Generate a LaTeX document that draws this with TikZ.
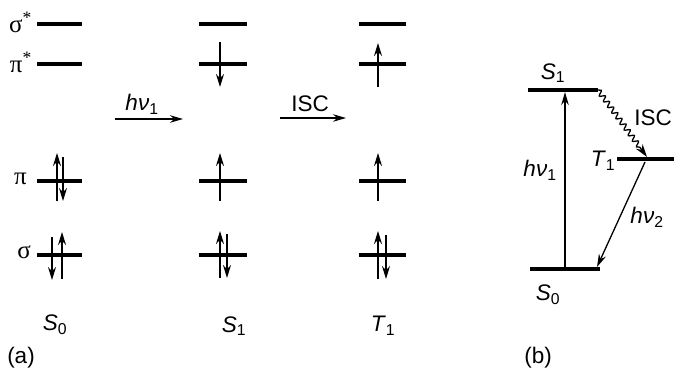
\documentclass[tikz,border=0pt]{standalone}
\usepackage{fontspec}
\setmainfont{Liberation Sans}
\newfontfamily\grk{Liberation Serif}
\usetikzlibrary{arrows.meta,decorations.pathmorphing}
\begin{document}
\begin{tikzpicture}[x=1pt,y=-1pt,
  level/.style={line width=4.2pt},
  el/.style={line width=1.5pt,-{Stealth[length=13pt,width=8pt]}},
  conn/.style={line width=1.3pt,-{Stealth[length=13pt,width=7.5pt]}},
  lbl/.style={font=\fontsize{22.5}{26}\selectfont, inner sep=0pt},
  glbl/.style={font=\fontsize{25}{28}\selectfont\grk, inner sep=0pt}]
\useasboundingbox (0,0) rectangle (674,370);
\newcommand\eup[3]{\draw[el] (#1,#2) -- (#1,#3);}
% ---------- (a) levels ----------
\foreach \xa/\xb in {37/82,199/247,359/406}{
  \foreach \yy in {24,64,181,255}{
    \draw[level] (\xa,\yy) -- (\xb,\yy);
  }
}
% labels of orbitals
\node[glbl,anchor=east] (lss) at (32,22) {σ\textsuperscript{*}};
\node[glbl,anchor=east] (lps) at (32,62) {π\textsuperscript{*}};
\node[glbl,anchor=east] (lp) at (27,179) {π};
\node[glbl,anchor=east] (ls) at (31,252) {σ};
% electrons column 1
\eup{57}{201}{153}
\eup{63}{157}{201}
\eup{52}{237}{280}
\eup{62}{279}{232}
% electrons column 2
\eup{220}{42}{87}
\eup{220}{201}{153}
\eup{220}{278}{231}
\eup{227}{234}{278}
% electrons column 3
\eup{378}{87}{43}
\eup{378}{201}{153}
\eup{378}{279}{231}
\eup{386}{235}{279}
% transitions
\coordinate (h1a) at (115,119);
\coordinate (h1b) at (183,119);
\draw[conn] (h1a) -- (h1b);
\node[lbl] (h1l) at (142,104) {\textit{hν}\textsubscript{1}};
\coordinate (isa) at (280,118);
\coordinate (isb) at (346,118);
\draw[conn] (isa) -- (isb);
\node[lbl] (isl) at (310,104) {ISC};
% state labels
\node[lbl] (s0a) at (55,325) {\textit{S}\textsubscript{0}};
\node[lbl] (s1a) at (234,326) {\textit{S}\textsubscript{1}};
\node[lbl] (t1a) at (383,326) {\textit{T}\textsubscript{1}};
\node[lbl] (pa) at (21,358) {(a)};
% ---------- (b) ----------
\coordinate (s1L) at (528,90);
\coordinate (s1R) at (598,90);
\coordinate (t1L) at (617,159);
\coordinate (t1R) at (674,159);
\coordinate (s0L) at (530,269);
\coordinate (s0R) at (600,269);
\draw[level] (s1L) -- (s1R);
\draw[level] (t1L) -- (t1R);
\draw[level] (s0L) -- (s0R);
\coordinate (abs0) at (565,269);
\coordinate (abs1) at (565,92);
\draw[conn] (abs0) -- (abs1);
\coordinate (iscE) at (647,157);
\draw[line width=1.3pt,-{Stealth[length=13pt,width=8pt]},
  decorate,decoration={snake,amplitude=2.5pt,segment length=7pt,post length=10pt}]
  (s1R) -- (iscE);
\coordinate (emA) at (645,162);
\coordinate (emB) at (597,267);
\draw[conn] (emA) -- (emB);
\node[lbl] (s1b) at (553,73) {\textit{S}\textsubscript{1}};
\node[lbl] (t1b) at (603,161) {\textit{T}\textsubscript{1}};
\node[lbl] (s0b) at (548,295) {\textit{S}\textsubscript{0}};
\node[lbl] (hb1) at (540,170) {\textit{hν}\textsubscript{1}};
\node[lbl] (hb2) at (647,217) {\textit{hν}\textsubscript{2}};
\node[lbl] (iscb) at (653,118) {ISC};
\node[lbl] (pb) at (538,358) {(b)};
\end{tikzpicture}
\end{document}
